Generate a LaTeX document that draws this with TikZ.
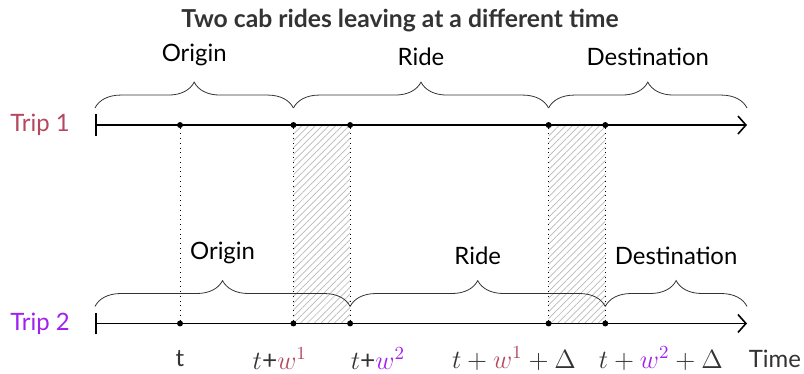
\RequirePackage{fix-cm}
\documentclass[tikz,border=0pt]{standalone}
\usepackage{fontspec}
\setmainfont{Lato}
\usepackage{tikz}
\usetikzlibrary{arrows.meta,positioning,decorations.pathreplacing,patterns.meta}
\definecolor{TripRed}{HTML}{B5485F}
\definecolor{TripPurple}{HTML}{A020F0}
\definecolor{InkGray}{HTML}{333333}

\begin{document}
\begin{tikzpicture}[
  axis/.style={{Bar[width=11pt]}-{Straight Barb[length=4pt,width=9pt]}, thick},
  dot/.style={circle, fill=black, inner sep=0pt, minimum size=3pt},
  guide/.style={dotted, thin},
  hatch/.style={pattern={Lines[angle=45,distance=2.4pt,line width=0.35pt]},
                pattern color=black!28},
  span/.style={decorate, decoration={brace, amplitude=13pt}, draw=black!80, thin},
  phase/.style={font=\large, above=0.62cm},
  tick/.style={font=\large, text=InkGray},
  mtick/.style={font=\fontsize{13.2}{16}\selectfont, text=InkGray}
]
\useasboundingbox (-1.675,-0.882) rectangle (12.505,5.705);

% waiting windows
\fill[hatch] (3.5,0) rectangle (4.5,3.5);
\fill[hatch] (8,0) rectangle (9,3.5);

\node[font=\fontsize{12.4}{15}\selectfont\bfseries, text=InkGray] (title) at (5.38,5.35)
  {Two cab rides leaving at a different time};

% time lines
\coordinate (s1) at (0,3.5);
\coordinate (e1) at (11.5,3.5);
\coordinate (s2) at (0,0);
\coordinate (e2) at (11.5,0);
\draw[axis] (s1) -- (e1);
\draw[axis] (s2) -- (e2);

\node[font=\large, text=TripRed] (trip1) at (-0.97,3.5) {Trip 1};
\node[font=\large, text=TripPurple] (trip2) at (-0.97,0) {Trip 2};

\foreach \x/\n in {1.5/a,3.5/b,4.5/c,8/d,9/e} {
  \node[dot] (\n1) at (\x,3.5) {};
  \node[dot] (\n2) at (\x,0) {};
  \draw[guide] (\n1) -- (\n2);
}

% phases of trip 1
\coordinate (o1) at (0,3.8);
\coordinate (r1) at (3.5,3.8);
\coordinate (d1) at (8,3.8);
\coordinate (f1) at (11.5,3.8);
\draw[span] (o1) -- node[phase] (origin1) {Origin} (r1);
\draw[span] (r1) -- node[phase] (ride1) {Ride} (d1);
\draw[span] (d1) -- node[phase] (dest1) {Destination} (f1);

% phases of trip 2
\coordinate (o2) at (0,0.3);
\coordinate (r2) at (4.5,0.3);
\coordinate (d2) at (9,0.3);
\coordinate (f2) at (11.5,0.3);
\draw[span] (o2) -- node[phase] (origin2) {Origin} (r2);
\draw[span] (r2) -- node[phase] (ride2) {Ride} (d2);
\draw[span] (d2) -- node[phase] (dest2) {Destination} (f2);

% time marks
\node[tick] (ta) at (1.5,-0.62) {t};
\node[mtick] (tb) at (3.26,-0.62) {$t$+\textcolor{TripRed}{$w^1$}};
\node[mtick] (tc) at (4.99,-0.62) {$t$+\textcolor{TripPurple}{$w^2$}};
\node[mtick] (td) at (7.39,-0.62)
  {$t+\textcolor{TripRed}{w^1}+\Delta$};
\node[mtick] (te) at (9.98,-0.62)
  {$t+\textcolor{TripPurple}{w^2}+\Delta$};
\node[tick] (time) at (11.99,-0.62) {Time};

\end{tikzpicture}
\end{document}
